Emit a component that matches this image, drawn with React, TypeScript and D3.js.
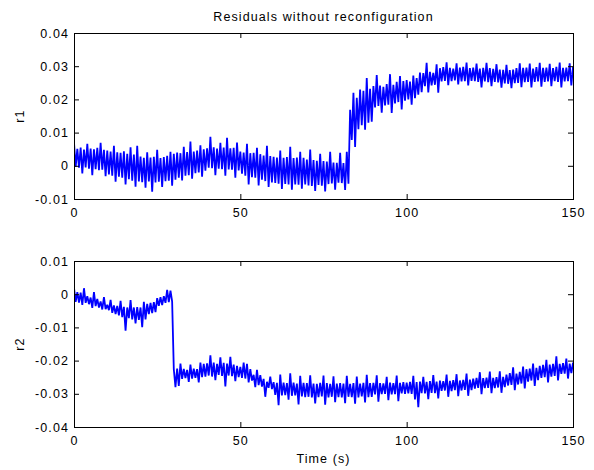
import React, { useEffect, useRef } from "react";
import * as d3 from "d3";

const chartTitle = "Residuals without reconfiguration";
const xTitle = "Time (s)";
const timeTicks = [0, 50, 100, 150];
const r1Ticks = [-0.01, 0, 0.01, 0.02, 0.03, 0.04];
const r2Ticks = [-0.04, -0.03, -0.02, -0.01, 0, 0.01];

// upper and lower excursion of the noisy trace, one pair per second (t = 0..150), in units of 1e-3
const r1Hi = [
  7.0, 5.1, 5.5, 4.9, 6.6, 5.2, 5.0, 5.4, 6.9, 4.8,
  4.6, 4.3, 6.0, 4.1, 3.9, 4.4, 3.6, 5.6, 3.4, 6.0,
  2.8, 2.4, 4.1, 2.5, 2.7, 4.8, 2.3, 2.6, 3.0, 4.2,
  3.6, 4.0, 3.8, 5.7, 4.1, 7.3, 4.3, 4.6, 6.2, 5.0,
  5.3, 8.7, 5.6, 5.2, 6.9, 5.5, 8.4, 5.3, 5.4, 7.0,
  4.3, 4.0, 6.6, 3.8, 3.9, 5.4, 3.5, 3.1, 6.0, 2.9,
  2.7, 2.5, 4.6, 2.4, 2.6, 5.7, 2.3, 2.5, 4.2, 2.4,
  1.9, 4.9, 1.7, 1.5, 3.6, 1.4, 1.3, 4.2, 1.0, 0.9,
  3.9, 0.8, 4.2, 16.9, 22.0, 20.5, 23.0, 22.6, 26.4, 23.2,
  24.0, 27.3, 24.2, 23.8, 24.6, 27.6, 24.4, 25.3, 27.0, 25.5,
  25.8, 25.4, 27.2, 26.4, 28.1, 27.9, 31.0, 28.3, 28.0, 30.6,
  29.4, 29.7, 31.2, 29.5, 29.3, 30.9, 29.6, 29.8, 31.1, 29.4,
  29.6, 30.8, 29.3, 29.5, 31.0, 29.4, 29.2, 30.6, 29.0, 28.9,
  30.4, 28.8, 29.0, 29.4, 30.9, 29.5, 29.6, 30.8, 29.3, 29.7,
  31.0, 29.5, 29.6, 30.7, 29.4, 29.8, 31.1, 29.5, 29.6, 30.9,
  29.7,
];
const r1Lo = [
  -0.3, -0.6, -2.3, -0.5, -0.9, -2.8, -1.0, -1.3, -1.2, -3.1,
  -2.6, -3.0, -4.8, -3.3, -3.6, -5.6, -4.0, -4.5, -6.3, -4.7,
  -4.9, -6.6, -4.7, -7.8, -5.0, -4.8, -6.4, -4.6, -4.5, -6.0,
  -4.2, -3.6, -4.4, -3.0, -2.8, -3.9, -2.2, -2.0, -3.3, -1.5,
  -0.6, -0.7, -2.8, -0.9, -1.0, -3.0, -1.1, -1.2, -3.6, -1.4,
  -2.4, -3.0, -5.6, -3.4, -3.6, -5.9, -4.2, -4.6, -6.4, -5.0,
  -5.2, -5.4, -7.0, -5.5, -5.6, -7.2, -5.6, -5.7, -6.9, -5.6,
  -5.9, -6.1, -7.6, -5.8, -6.0, -7.7, -5.5, -5.3, -7.2, -5.1,
  -5.2, -7.3, -5.4, 7.8, 5.7, 11.0, 12.2, 10.9, 13.0, 13.3,
  17.6, 18.0, 16.0, 18.2, 18.4, 15.9, 18.8, 19.2, 17.0, 19.6,
  20.0, 18.4, 20.4, 21.4, 22.2, 24.0, 22.1, 24.2, 24.4, 22.0,
  25.4, 25.6, 24.3, 25.5, 25.7, 24.5, 25.4, 25.5, 24.2, 25.6,
  25.5, 25.3, 23.6, 25.4, 25.2, 24.0, 25.3, 25.1, 23.5, 24.8,
  24.7, 23.4, 24.9, 25.0, 23.7, 25.2, 25.3, 23.6, 25.3, 25.4,
  23.8, 25.3, 25.4, 24.0, 25.5, 25.3, 23.6, 25.4, 25.5, 24.2,
  25.4,
];
const r2Hi = [
  1.9, 0.6, 0.5, 1.8, -0.6, -1.0, 0.6, -1.4, -2.2, -0.9,
  -3.2, -1.7, -3.4, -3.5, -2.0, -3.8, -4.0, -1.8, -4.0, -3.9,
  -4.0, -2.3, -2.9, -2.6, -2.4, -1.2, -0.9, -0.6, 1.3, 1.1,
  -22.6, -22.4, -20.9, -22.5, -22.8, -21.2, -22.4, -22.6, -20.6, -21.0,
  -20.8, -18.4, -20.6, -21.0, -19.0, -20.7, -20.9, -18.9, -21.2, -21.6,
  -21.9, -20.6, -21.0, -22.6, -24.3, -22.8, -24.4, -25.5, -26.4, -24.8,
  -26.5, -26.7, -24.2, -26.6, -26.8, -23.8, -26.6, -26.9, -24.6, -26.7,
  -26.8, -24.4, -26.9, -27.0, -26.7, -24.5, -26.8, -27.0, -24.7, -26.9,
  -26.8, -26.9, -24.6, -27.0, -26.8, -24.8, -26.9, -26.7, -24.3, -26.8,
  -26.7, -24.4, -26.8, -26.9, -24.9, -26.6, -26.8, -24.5, -26.7, -26.5,
  -26.6, -26.4, -24.6, -26.5, -26.3, -24.9, -26.4, -26.2, -24.4, -26.3,
  -26.0, -26.2, -24.2, -26.1, -25.9, -24.1, -26.0, -25.8, -23.9, -25.7,
  -25.4, -25.2, -23.5, -25.3, -25.1, -23.3, -25.2, -25.0, -23.2, -24.9,
  -24.2, -23.8, -22.0, -23.9, -23.4, -21.8, -22.6, -22.4, -20.9, -22.2,
  -21.6, -21.3, -19.8, -21.2, -21.0, -18.7, -21.0, -20.8, -19.4, -20.9,
  -20.6,
];
const r2Lo = [
  -2.3, -2.5, -3.2, -2.6, -3.0, -4.1, -3.6, -4.0, -4.6, -4.5,
  -4.8, -5.6, -6.0, -6.4, -6.9, -11.0, -7.2, -7.6, -8.8, -7.7,
  -9.9, -7.6, -6.0, -5.7, -5.4, -3.5, -3.3, -2.6, -2.4, -2.2,
  -28.0, -27.6, -25.5, -25.3, -26.4, -25.4, -25.2, -26.6, -25.0, -24.8,
  -24.5, -24.8, -25.9, -24.3, -24.6, -27.8, -24.5, -24.7, -26.2, -25.0,
  -25.2, -25.4, -26.6, -26.0, -28.0, -27.4, -27.8, -30.9, -28.2, -28.6,
  -30.3, -33.4, -30.5, -30.4, -31.8, -30.6, -30.5, -33.2, -30.8, -31.0,
  -30.9, -31.1, -32.9, -31.0, -30.8, -33.3, -31.1, -30.9, -32.5, -31.0,
  -31.1, -32.8, -30.9, -31.0, -33.0, -31.1, -30.8, -32.6, -31.0, -30.9,
  -30.2, -32.4, -30.1, -30.0, -31.9, -30.2, -30.1, -32.2, -29.9, -30.0,
  -29.9, -30.0, -31.7, -34.0, -29.8, -29.9, -31.6, -29.7, -29.8, -31.4,
  -29.1, -29.0, -30.9, -29.2, -28.9, -30.7, -29.0, -28.8, -30.6, -28.9,
  -28.4, -28.2, -30.1, -28.3, -28.2, -29.8, -28.3, -28.1, -29.7, -28.0,
  -27.5, -27.3, -28.9, -27.2, -26.9, -28.4, -26.3, -26.0, -27.6, -25.9,
  -25.2, -25.0, -26.6, -24.8, -24.6, -26.0, -24.0, -23.9, -25.4, -23.8,
  -24.2,
];

const FONT = "'Liberation Sans', Arial, Helvetica, sans-serif";

// hi / lo samples alternate, so the trace zig-zags like the recorded noise
function trace(hi: number[], lo: number[]): [number, number][] {
  return hi.flatMap((h, i) => [
    [i, h / 1000],
    [i + 0.5, lo[i] / 1000],
  ] as [number, number][]);
}

function App() {
  const svgRef = useRef<SVGSVGElement>(null);

  useEffect(() => {
    const svg = d3.select(svgRef.current);
    svg.selectAll("*").remove();

    const left = 74;
    const right = 573;
    const x = d3.scaleLinear().domain([0, 150]).range([left, right]);

    const panels = [
      { name: "r1", hi: r1Hi, lo: r1Lo, ticks: r1Ticks, top: 33, bottom: 199, labelY: 116 },
      { name: "r2", hi: r2Hi, lo: r2Lo, ticks: r2Ticks, top: 261, bottom: 427, labelY: 344 },
    ];

    const fmtY = (d: number) => (d === 0 ? "0" : d.toFixed(2));
    // d3 puts its own 10px sans-serif on every axis, drop it so the parent font is used
    const inherit = (g: d3.Selection<SVGGElement, unknown, null, undefined>) =>
      g.attr("font-size", null).attr("font-family", null);

    panels.forEach((p, k) => {
      const y = d3
        .scaleLinear()
        .domain([p.ticks[0], p.ticks[p.ticks.length - 1]])
        .range([p.bottom, p.top]);

      const clipId = "clip-" + p.name;
      svg
        .append("clipPath")
        .attr("id", clipId)
        .append("rect")
        .attr("x", left)
        .attr("y", p.top)
        .attr("width", right - left)
        .attr("height", p.bottom - p.top);

      const line = d3
        .line<[number, number]>()
        .x((d) => x(d[0]))
        .y((d) => y(d[1]));

      svg
        .append("path")
        .datum(trace(p.hi, p.lo))
        .attr("clip-path", `url(#${clipId})`)
        .attr("fill", "none")
        .attr("stroke", "#0000ff")
        .attr("stroke-width", 1.8)
        .attr("stroke-linejoin", "bevel")
        .attr("d", line);

      // axes, ticks pointing inwards like matlab
      const axes = svg
        .append("g")
        .attr("font-family", FONT)
        .attr("font-size", 12.5)
        .style("letter-spacing", "1.1px");

      axes
        .append("g")
        .attr("transform", `translate(0,${p.bottom})`)
        .call(d3.axisBottom(x).tickValues(timeTicks).tickSize(-5).tickSizeOuter(0).tickPadding(9).tickFormat(d3.format("d")))
        .call(inherit);
      axes
        .append("g")
        .attr("transform", `translate(0,${p.top})`)
        .call(d3.axisTop(x).tickValues(timeTicks).tickSize(-5).tickSizeOuter(0).tickFormat(() => ""));
      axes
        .append("g")
        .attr("transform", `translate(${left},0)`)
        .call(d3.axisLeft(y).tickValues(p.ticks).tickSize(-5).tickSizeOuter(0).tickPadding(5).tickFormat((d) => fmtY(+d)))
        .call(inherit);
      axes
        .append("g")
        .attr("transform", `translate(${right},0)`)
        .call(d3.axisRight(y).tickValues(p.ticks).tickSize(-5).tickSizeOuter(0).tickFormat(() => ""));

      axes.selectAll("text").attr("fill", "#000");
      axes.selectAll("line, path").attr("stroke", "#000");

      axes
        .append("rect")
        .attr("x", left + 0.5)
        .attr("y", p.top + 0.5)
        .attr("width", right - left)
        .attr("height", p.bottom - p.top)
        .attr("fill", "none")
        .attr("stroke", "#000");

      axes
        .append("text")
        .attr("transform", `translate(24,${p.labelY}) rotate(-90)`)
        .attr("text-anchor", "middle")
        .text(p.name);

      if (k === 0) {
        axes
          .append("text")
          .attr("x", (left + right) / 2)
          .attr("y", 21)
          .attr("text-anchor", "middle")
          .text(chartTitle);
      } else {
        axes
          .append("text")
          .attr("x", (left + right) / 2)
          .attr("y", 463)
          .attr("text-anchor", "middle")
          .text(xTitle);
      }
    });
  }, []);

  return (
    <svg
      ref={svgRef}
      width={594}
      height={470}
      style={{ position: "absolute", left: 0, top: 0, background: "#fff" }}
    />
  );
}

export default App;
